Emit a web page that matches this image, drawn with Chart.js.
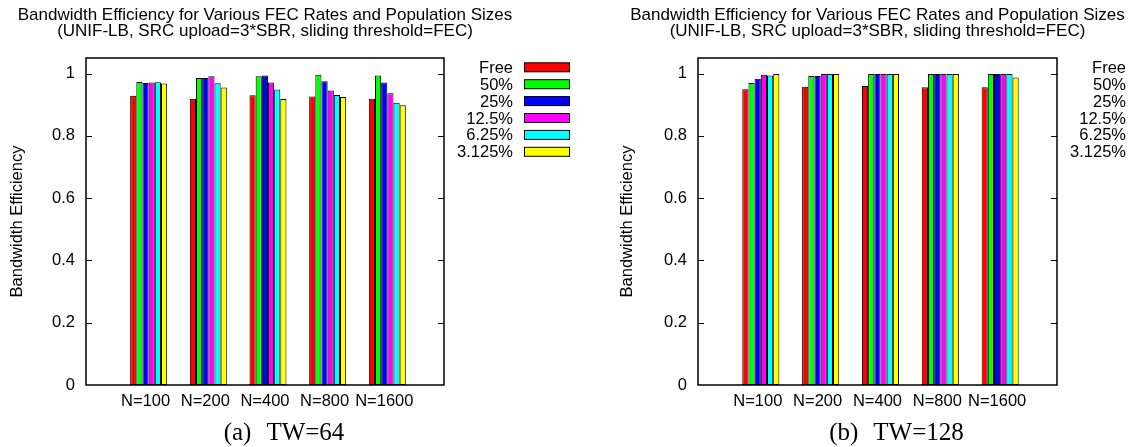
<!DOCTYPE html>
<html><head><meta charset="utf-8">
<script src="https://cdn.jsdelivr.net/npm/chart.js@4.4.0/dist/chart.umd.min.js"></script>
<style>
html,body{margin:0;padding:0;background:#fff;overflow:hidden}
#wrap{position:relative;width:1128px;height:447px;background:#fff;overflow:hidden}
canvas{position:absolute;top:0}
</style></head><body>
<div id="wrap">
<canvas id="c1" width="610" height="447" style="left:0"></canvas>
<canvas id="c2" width="564" height="447" style="left:564px"></canvas>
</div>
<script>
// ---- data ----
const categories = ['N=100', 'N=200', 'N=400', 'N=800', 'N=1600'];
const seriesLabels = ['Free', '50%', '25%', '12.5%', '6.25%', '3.125%'];
const seriesColors = ['#ff0000', '#00ff00', '#0000ff', '#ff00ff', '#00ffff', '#ffff00'];
const yTicks = [0, 0.2, 0.4, 0.6, 0.8, 1];
const titleLines = ['Bandwidth Efficiency for Various FEC Rates and Population Sizes',
                    '(UNIF-LB, SRC upload=3*SBR, sliding threshold=FEC)'];
const yAxisLabel = 'Bandwidth Efficiency';
const captionA = ['(a)', 'TW=64'];
const captionB = ['(b)', 'TW=128'];

// TW=64
const tw64Free   = [0.929, 0.919, 0.930, 0.926, 0.919];
const tw64Fec50  = [0.973, 0.986, 0.991, 0.996, 0.994];
const tw64Fec25  = [0.970, 0.986, 0.994, 0.975, 0.971];
const tw64Fec12  = [0.971, 0.991, 0.971, 0.946, 0.937];
const tw64Fec6   = [0.972, 0.969, 0.949, 0.931, 0.906];
const tw64Fec3   = [0.968, 0.955, 0.918, 0.925, 0.898];
// TW=128
const tw128Free  = [0.950, 0.958, 0.960, 0.956, 0.956];
const tw128Fec50 = [0.970, 0.992, 0.999, 0.999, 0.999];
const tw128Fec25 = [0.983, 0.992, 0.999, 0.999, 0.999];
const tw128Fec12 = [0.996, 0.999, 0.999, 0.999, 0.999];
const tw128Fec6  = [0.994, 0.999, 0.999, 0.999, 0.999];
const tw128Fec3  = [0.999, 0.999, 0.999, 0.999, 0.987];

const FONT = '"Liberation Sans", Arial, Helvetica, sans-serif';
const SERIF = '"Liberation Serif", "Times New Roman", Times, serif';
Chart.defaults.font.family = FONT;
Chart.defaults.font.size = 16.5;
Chart.defaults.color = '#000';

function makeChart(canvasId, seriesList, caption, lay) {
  const deco = {
    id: 'deco',
    afterDraw(chart) {
      const ctx = chart.ctx, ca = chart.chartArea, ys = chart.scales.y;
      ctx.save();
      // frame
      ctx.strokeStyle = '#000';
      ctx.lineWidth = 1.5;
      ctx.strokeRect(ca.left, ca.top, ca.right - ca.left, ca.bottom - ca.top);
      // inward ticks (left and mirrored right)
      ctx.lineWidth = 1;
      ctx.beginPath();
      yTicks.forEach(v => {
        if (v === 0) return;
        const y = Math.round(ys.getPixelForValue(v)) + 0.5;
        ctx.moveTo(ca.left, y); ctx.lineTo(ca.left + 6, y);
        ctx.moveTo(ca.right - 6, y); ctx.lineTo(ca.right, y);
      });
      ctx.stroke();
      const cx = (ca.left + ca.right) / 2;
      // title
      ctx.fillStyle = '#000';
      ctx.font = '17px ' + FONT;
      ctx.textAlign = 'center';
      ctx.textBaseline = 'alphabetic';
      ctx.fillText(titleLines[0], cx, 20);
      ctx.fillText(titleLines[1], cx, 36);
      // legend
      ctx.font = '16.5px ' + FONT;
      ctx.textBaseline = 'middle';
      seriesList.forEach((s, i) => {
        const y = ca.top + 9.3 + i * 16.9;
        ctx.textAlign = 'right';
        ctx.fillStyle = '#000';
        ctx.fillText(seriesLabels[i], ca.right + 69, y + 1);
        ctx.fillStyle = seriesColors[i];
        ctx.fillRect(ca.right + 80, y - 4.5, 45, 9);
        ctx.lineWidth = 1;
        ctx.strokeStyle = '#000';
        ctx.strokeRect(ca.right + 80.5, y - 4.5, 45, 9);
      });
      // caption
      ctx.font = '25px ' + SERIF;
      ctx.textBaseline = 'alphabetic';
      ctx.fillStyle = '#000';
      const w1 = ctx.measureText(caption[0]).width;
      const w2 = ctx.measureText(caption[1]).width;
      const gap = 15;
      const total = w1 + gap + w2;
      const start = cx + 19 - total / 2;
      ctx.textAlign = 'left';
      ctx.fillText(caption[0], start, 440);
      ctx.fillText(caption[1], start + w1 + gap, 440);
      ctx.restore();
    }
  };

  return new Chart(document.getElementById(canvasId), {
    type: 'bar',
    data: {
      labels: categories.map((c, i) => i),
      datasets: seriesList.map((s, i) => ({
        label: seriesLabels[i],
        data: s,
        backgroundColor: seriesColors[i],
        borderColor: '#000',
        borderWidth: 1,
        borderSkipped: false,
        categoryPercentage: 0.62,
        barPercentage: 1.0
      }))
    },
    options: {
      responsive: false,
      animation: false,
      devicePixelRatio: 1,
      layout: { padding: { left: lay.left, right: lay.right, top: 58, bottom: 22 } },
      plugins: { legend: { display: false }, tooltip: { enabled: false }, title: { display: false } },
      scales: {
        x: {
          type: 'linear', min: -1.05, max: 4.95, offset: false,
          grid: { display: false, drawTicks: false },
          border: { display: false },
          afterBuildTicks: sc => { sc.ticks = categories.map((c, i) => ({ value: i })); },
          afterFit: sc => { sc.height = 40; },
          ticks: {
            autoSkip: false, maxRotation: 0, minRotation: 0, padding: 7, labelOffset: -3,
            font: { size: 16.5 }, color: '#000',
            callback: v => categories[Math.round(v)]
          }
        },
        y: {
          min: 0, max: 1.05,
          grid: { display: false, drawTicks: false },
          border: { display: false },
          afterBuildTicks: sc => { sc.ticks = yTicks.map(v => ({ value: v })); },
          afterFit: sc => { sc.width = lay.yWidth; },
          ticks: {
            padding: 11, font: { size: 16.5 }, color: '#000',
            callback: v => String(+(+v).toFixed(2))
          },
          title: {
            display: true, text: yAxisLabel, color: '#000',
            font: { size: 16.5 }, padding: { top: 8, bottom: 0 }
          }
        }
      }
    },
    plugins: [deco]
  });
}

makeChart('c1', [tw64Free, tw64Fec50, tw64Fec25, tw64Fec12, tw64Fec6, tw64Fec3], captionA,
          { left: 0, yWidth: 86, right: 166 });
makeChart('c2', [tw128Free, tw128Fec50, tw128Fec25, tw128Fec12, tw128Fec6, tw128Fec3], captionB,
          { left: 46, yWidth: 88, right: 71 });
</script>
</body></html>
